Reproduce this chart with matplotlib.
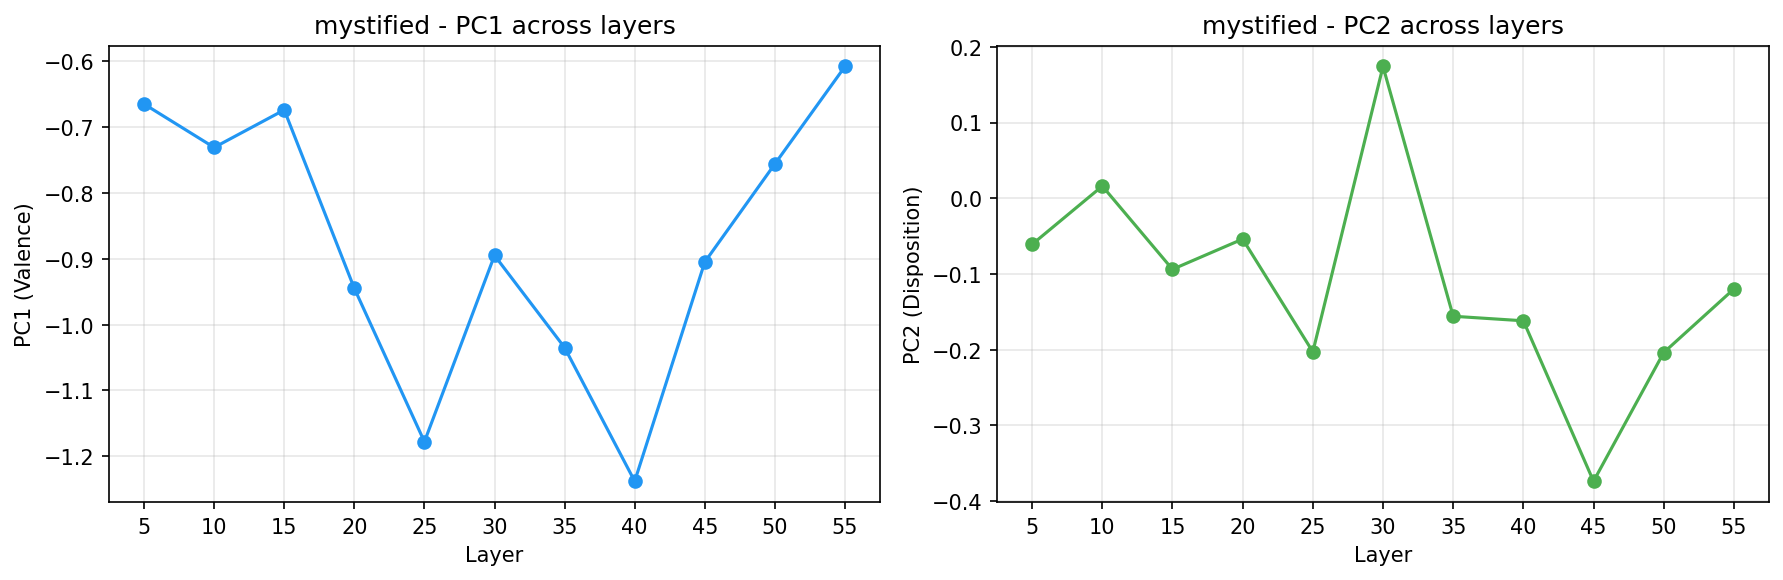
import matplotlib
matplotlib.use("Agg")
import matplotlib.pyplot as plt

# Layer-wise principal component values for "mystified"
layers = [5, 10, 15, 20, 25, 30, 35, 40, 45, 50, 55]
pc1 = [-0.665, -0.731, -0.674, -0.945, -1.178, -0.895, -1.035, -1.238, -0.905, -0.756, -0.608]
pc2 = [-0.061, 0.016, -0.094, -0.054, -0.203, 0.174, -0.156, -0.162, -0.374, -0.204, -0.120]

word = "mystified"

fig, axes = plt.subplots(1, 2, figsize=(11.893, 3.873), dpi=150)

panels = [
    (axes[0], pc1, "#2196F3", "PC1", "PC1 (Valence)"),
    (axes[1], pc2, "#4CAF50", "PC2", "PC2 (Disposition)"),
]
for ax, values, color, name, ylabel in panels:
    ax.plot(layers, values, "o-", color=color, linewidth=1.5, markersize=6)
    ax.set_title(f"{word} - {name} across layers")
    ax.set_xlabel("Layer")
    ax.set_ylabel(ylabel)
    ax.set_xticks(layers)
    ax.grid(True, alpha=0.3)

# match the tight layout of the original
fig.subplots_adjust(left=0.0611, right=0.9916, bottom=0.1343, top=0.9196, wspace=0.17)
axes[0].set_position([0.0611, 0.1343, 0.4933 - 0.0611, 0.9196 - 0.1343])
axes[1].set_position([0.5589, 0.1343, 0.9916 - 0.5589, 0.9196 - 0.1343])
plt.savefig("out.png", dpi=150)
